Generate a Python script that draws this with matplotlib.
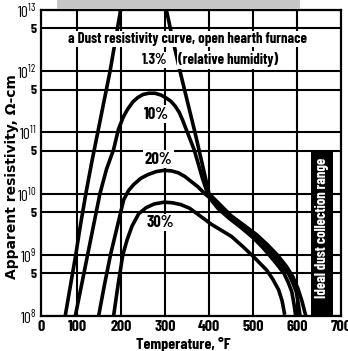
import matplotlib

matplotlib.use("Agg")

import numpy as np
import matplotlib.pyplot as plt
from matplotlib.patches import Rectangle

NARROW = ["Barlow Condensed", "Archivo Narrow", "Liberation Sans", "DejaVu Sans"]

plt.rcParams["mathtext.fontset"] = "custom"
plt.rcParams["mathtext.rm"] = "Barlow Condensed"
plt.rcParams["font.family"] = NARROW

# curves: temperature (deg F) and log10 of resistivity (ohm-cm)
temp_13 = [73, 85, 97, 108, 120, 133, 147, 161, 175, 187, 199, 215, 250, 288, 303,
           318, 334, 351, 368, 384, 400, 425, 450, 480, 508, 532, 555, 575, 590, 602, 611, 620]
log_13 = [8.0, 8.5, 9.0, 9.5, 10.0, 10.5, 11.0, 11.5, 12.0, 12.5, 13.0, 13.4, 14.0, 13.4, 13.0,
          12.5, 12.0, 11.5, 11.0, 10.5, 10.0, 9.82, 9.64, 9.48, 9.33, 9.17, 9.0, 8.82, 8.65, 8.45, 8.25, 8.0]

temp_10 = [96, 110, 124, 138, 152, 167, 183, 194, 205, 215, 227, 238, 250, 263, 277, 291, 303,
           313, 323, 332, 340, 348, 359, 366, 375, 385, 398, 420, 448, 475, 505, 528, 548, 565,
           580, 590, 598, 603, 607]
log_10 = [8.0, 8.5, 9.0, 9.5, 10.0, 10.4, 10.72, 11.05, 11.25, 11.38, 11.5, 11.57, 11.62, 11.64,
          11.64, 11.61, 11.56, 11.51, 11.43, 11.33, 11.2, 11.05, 10.85, 10.72, 10.5, 10.25, 9.97,
          9.78, 9.62, 9.46, 9.3, 9.15, 8.98, 8.83, 8.7, 8.55, 8.4, 8.2, 8.0]

temp_20 = [149, 162, 176, 186, 195, 206, 217, 229, 245, 261, 280, 298, 315, 330, 345, 359, 375,
           390, 400, 420, 445, 472, 500, 522, 540, 556, 570, 580, 588, 593, 597]
log_20 = [8.0, 8.5, 9.0, 9.3, 9.57, 9.9, 10.05, 10.15, 10.25, 10.31, 10.36, 10.38, 10.37, 10.34,
          10.28, 10.2, 10.11, 10.0, 9.94, 9.76, 9.6, 9.45, 9.28, 9.12, 8.97, 8.83, 8.7, 8.55, 8.4,
          8.2, 8.0]

temp_30 = [183, 193, 204, 214, 225, 240, 257, 275, 298, 317, 336, 356, 375, 392, 405, 428, 451,
           476, 501, 520, 531, 545, 558, 566, 572]
log_30 = [8.0, 8.5, 9.0, 9.25, 9.47, 9.67, 9.77, 9.83, 9.86, 9.85, 9.82, 9.76, 9.66, 9.57, 9.5,
          9.4, 9.3, 9.14, 8.97, 8.83, 8.75, 8.6, 8.43, 8.25, 8.02]

curves = [(temp_13, log_13), (temp_10, log_10), (temp_20, log_20), (temp_30, log_30)]

curve_labels = ["10%", "20%", "30%"]
label_temps = [280, 285, 289]
label_logs = [11.30, 10.56, 9.53]

x_ticks = [18, 100, 200, 300, 400, 500, 600, 700]
x_tick_labels = ["0", "100", "200", "300", "400", "500", "600", "700"]
decades = [8, 9, 10, 11, 12, 13]
fives = [8, 9, 10, 11, 12]

ideal_range = (632, 682)
ideal_top = 10.69

fig = plt.figure(figsize=(3.48, 3.51), dpi=100)
ax = fig.add_axes([41 / 348, 35 / 351, 300 / 348, 306 / 351])
ax.set_yscale("log")
ax.set_xlim(x_ticks[0], x_ticks[-1])
ax.set_ylim(10.0 ** decades[0], 10.0 ** decades[-1])

# grid
for t in x_ticks[1:-1]:
    ax.axvline(t, color="black", lw=1.5, zorder=1)
for d in decades:
    ax.axhline(10.0 ** d, color="black", lw=1.5, zorder=1)
for d in fives:
    ax.axhline(5 * 10.0 ** d, color="black", lw=1.5, zorder=1)

for t, l in curves:
    ax.plot(t, 10.0 ** np.array(l), color="black", lw=2.6, zorder=3,
            solid_joinstyle="round", solid_capstyle="butt")

ax.fill_between(ideal_range, 10.0 ** decades[0], 10.0 ** ideal_top, color="black", lw=0, zorder=4)
ax.text(np.mean(ideal_range), 10 ** 9.44, "Ideal dust collection range", rotation=90,
        color="white", fontsize=10.5, fontweight="bold", ha="center", va="center", zorder=5)

box = dict(facecolor="white", edgecolor="none", pad=1.0)
for s, t, l in zip(curve_labels, label_temps, label_logs):
    ax.text(t, 10 ** l, s, fontsize=12, fontweight="bold", ha="center", va="center",
            bbox=box, zorder=5)

ax.text(0.487, 0.905, "a Dust resistivity curve, open hearth furnace", transform=ax.transAxes,
        fontsize=10.6, fontweight="bold", ha="center", va="center", bbox=box, zorder=5)
ax.text(0.377, 0.837, "1.3%", transform=ax.transAxes, fontsize=10.6, fontweight="bold",
        ha="center", va="center", bbox=box, zorder=5)
ax.text(0.625, 0.837, "(relative humidity)", transform=ax.transAxes, fontsize=10.6,
        fontweight="bold", ha="center", va="center", bbox=box, zorder=5)

for s in ax.spines.values():
    s.set_linewidth(1.6)
    s.set_zorder(6)

ax.set_xticks(x_ticks)
ax.set_xticklabels(x_tick_labels, fontsize=11.5, fontweight="bold")
ax.set_yticks([10.0 ** d for d in decades])
ax.set_yticklabels(["$10^{%d}$" % d for d in decades], fontsize=11)
ax.set_yticks([5 * 10.0 ** d for d in fives], minor=True)
ax.set_yticklabels(["5"] * len(fives), minor=True, fontsize=10, fontweight="bold")
ax.tick_params(axis="both", which="both", length=0, pad=3)

ax.set_xlabel("Temperature, °F", fontsize=11.5, fontweight="bold")
ax.xaxis.set_label_coords(0.473, -0.067)
fig.text(0.034, 0.496, "Apparent resistivity, Ω-cm", rotation=90, fontsize=10,
         fontweight="bold", family="DejaVu Sans", ha="center", va="center")

# scanned paper shading along the top edge
fig.patches.append(Rectangle((57 / 348, 1 - 9 / 351), 243 / 348, 9 / 351,
                             transform=fig.transFigure, color="#c6c6c6", lw=0, zorder=0))

fig.savefig("out.png", dpi=100)
